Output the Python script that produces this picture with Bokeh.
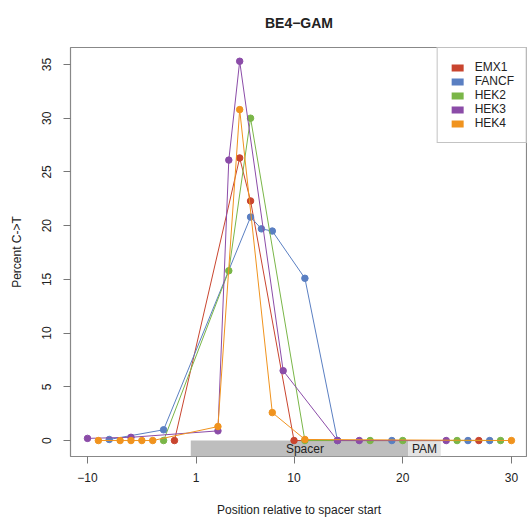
from bokeh.plotting import figure
from bokeh.models import Range1d, FixedTicker, Legend, LegendItem, Label
from bokeh.embed import file_html
from bokeh.resources import INLINE

# ---- data (position relative to spacer start, percent C->T) ----
series_names = ["EMX1", "FANCF", "HEK2", "HEK3", "HEK4"]
series_colors = ["#C9452F", "#5A7FC2", "#7AB648", "#8B4CA8", "#F0931E"]

emx1_pos = [-2, 5, 6, 10, 27]
emx1_val = [0.0, 26.3, 22.3, 0.0, 0.0]

fancf_pos = [-8, -3, 6, 7, 8, 11, 14, 19, 26, 28]
fancf_val = [0.1, 1.0, 20.8, 19.7, 19.5, 15.1, 0.0, 0.0, 0.0, 0.0]

hek2_pos = [-3, 4, 6, 11, 17, 20, 25, 29]
hek2_val = [0.0, 15.8, 30.0, 0.0, 0.0, 0.0, 0.0, 0.0]

hek3_pos = [-10, -6, 3, 4, 5, 9, 14, 16, 24]
hek3_val = [0.2, 0.3, 0.9, 26.1, 35.3, 6.5, 0.0, 0.0, 0.0]

hek4_pos = [-9, -7, -6, -5, -4, 3, 5, 8, 11, 30]
hek4_val = [0.0, 0.0, 0.0, 0.0, 0.0, 1.3, 30.8, 2.6, 0.1, 0.0]

x_tick_labels = ["-10", "1", "10", "20", "30"]
y_ticks = [0, 5, 10, 15, 20, 25, 30, 35]

spacer_span = [1, 20]
pam_span = [21, 23]

title_text = "BE4\u2212GAM"


def to_idx(pos):
    # there is no position 0: -1 is followed by 1
    return pos if pos < 0 else pos - 1


FONT = "Liberation Sans"
NAN = float("nan")
X0, X1 = -11.564, 30.478
Y0, Y1 = -1.486, 36.58

p = figure(width=527, height=525, output_backend="svg", toolbar_location=None,
           x_range=Range1d(X0, X1), y_range=Range1d(Y0, Y1),
           min_border_left=70, min_border_right=0, min_border_top=46,
           min_border_bottom=69, title=title_text)

p.title.align = "center"
p.title.vertical_align = "top"
p.title.text_font = FONT
p.title.text_font_size = "14px"
p.title.text_font_style = "bold"
p.title.text_color = "#222222"
p.title.offset = 0
p.title.standoff = 29

p.grid.visible = False
p.outline_line_color = "#888888"
p.outline_line_width = 1.2
p.background_fill_color = "white"
p.border_fill_color = "white"

# spacer / PAM boxes
p.quad(left=[to_idx(spacer_span[0]) - 0.5], right=[to_idx(spacer_span[1]) + 0.5],
       bottom=[Y0], top=[0], fill_color="#BEBEBE", line_color=None)
p.quad(left=[to_idx(pam_span[0]) - 0.5], right=[to_idx(pam_span[1]) + 0.5],
       bottom=[Y0], top=[0], fill_color="#E3E3E3", line_color=None)
p.add_layout(Label(x=(to_idx(spacer_span[0]) + to_idx(spacer_span[1])) / 2 + 0.5, y=Y0 / 2,
                   text="Spacer", text_align="center", text_baseline="middle",
                   text_font=FONT, text_font_size="12px", text_color="#222222"))
p.add_layout(Label(x=(to_idx(pam_span[0]) + to_idx(pam_span[1])) / 2, y=Y0 / 2,
                   text="PAM", text_align="center", text_baseline="middle",
                   text_font=FONT, text_font_size="12px", text_color="#222222"))

all_pos = [emx1_pos, fancf_pos, hek2_pos, hek3_pos, hek4_pos]
all_val = [emx1_val, fancf_val, hek2_val, hek3_val, hek4_val]

legend_items = []
for name, color, pos, val in zip(series_names, series_colors, all_pos, all_val):
    xs = [to_idx(v) for v in pos]
    p.line(xs, val, line_color=color, line_width=1.0)
    p.scatter(xs, val, marker="circle", size=6.5, fill_color=color, line_color=color)
    r = p.quad(left=[NAN], right=[NAN], bottom=[NAN], top=[NAN],
               fill_color=color, line_color=None)
    legend_items.append(LegendItem(label=name, renderers=[r]))

legend = Legend(items=legend_items, location="top_right", margin=0,
                padding=12, spacing=0, label_height=13, glyph_height=9,
                glyph_width=15, label_standoff=10,
                label_text_font=FONT, label_text_font_size="12px",
                label_text_color="#222222", border_line_color="#888888",
                border_line_width=1.2, background_fill_color="white")
p.add_layout(legend)

# axes
p.xaxis.ticker = FixedTicker(ticks=[to_idx(int(t)) for t in x_tick_labels])
p.xaxis.major_label_overrides = {to_idx(int(t)): t.replace("-", "\u2212") for t in x_tick_labels}
p.yaxis.ticker = FixedTicker(ticks=y_ticks)
p.yaxis.major_label_orientation = "vertical"

for ax in (p.xaxis[0], p.yaxis[0]):
    ax.axis_line_color = None
    ax.major_tick_line_color = "#777777"
    ax.major_tick_in = 0
    ax.major_tick_out = 7
    ax.minor_tick_line_color = None
    ax.major_label_text_font = FONT
    ax.major_label_text_font_size = "12px"
    ax.major_label_text_color = "#222222"
    ax.axis_label_text_font = FONT
    ax.axis_label_text_font_size = "12px"
    ax.axis_label_text_font_style = "normal"
    ax.axis_label_text_color = "#222222"

p.xaxis.axis_label = "Position relative to spacer start"
p.yaxis.axis_label = "Percent C->T"
p.xaxis.major_label_standoff = 9
p.xaxis.axis_label_standoff = 18
p.yaxis.major_label_standoff = 12
p.yaxis.axis_label_standoff = 16

open("out.html", "w").write(file_html(p, INLINE))
